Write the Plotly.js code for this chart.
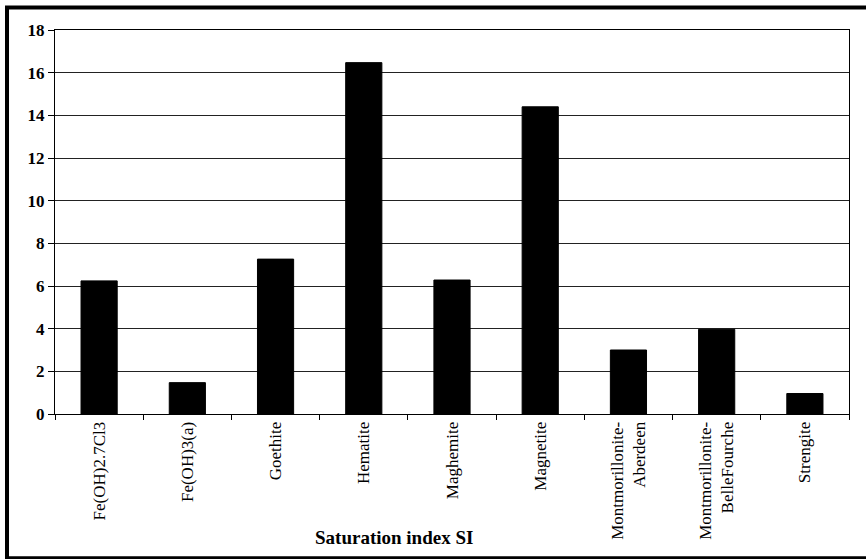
<!DOCTYPE html>
<html>
<head>
<meta charset="utf-8">
<script src="https://cdn.plot.ly/plotly-3.0.1.min.js"></script>
<style>
html,body{margin:0;padding:0;background:#fff;}
#chart{width:866px;height:559px;}
</style>
</head>
<body>
<div id="chart"></div>
<script>
var categories = ["Fe(OH)2.7Cl3", "Fe(OH)3(a)", "Goethite", "Hematite", "Maghemite", "Magnetite", "Montmorillonite-<br>Aberdeen", "Montmorillonite-<br>BelleFourche", "Strengite"];
var siValues = [6.24, 1.47, 7.26, 16.47, 6.28, 14.40, 3.00, 3.97, 0.96];
var yTicks = [0, 2, 4, 6, 8, 10, 12, 14, 16, 18];
var xTitle = "Saturation index SI";

var W = 866, H = 559;
var L = 55, T = 29.5, R = 17, B = 145.3;
var pw = W - L - R, ph = H - T - B;
function px(x) { return (x - L) / pw; }
function py(y) { return (H - B - y) / ph; }

var font = "Liberation Serif";

var trace = {
  type: "bar",
  x: categories,
  y: siValues,
  marker: { color: "#000000", line: { color: "#000000", width: 1 } },
  hoverinfo: "x+y"
};

var layout = {
  width: W, height: H,
  margin: { l: L, r: R, t: T, b: B, pad: 0 },
  paper_bgcolor: "#ffffff",
  plot_bgcolor: "#ffffff",
  bargap: 0.59,
  showlegend: false,
  font: { family: font, color: "#000" },
  xaxis: {
    type: "category",
    tickson: "boundaries",
    ticks: "outside",
    ticklen: 5,
    tickcolor: "#000",
    tickangle: -90,
    tickfont: { family: font, size: 17, color: "#000" },
    showgrid: false,
    showline: true,
    linecolor: "#000",
    linewidth: 1,
    mirror: true,
    automargin: false
  },
  yaxis: {
    range: [0, 18],
    tickvals: yTicks,
    ticks: "outside",
    ticklen: 6,
    tickcolor: "#000",
    tickfont: { family: font, size: 17, color: "#000", weight: "bold" },
    showgrid: true,
    gridcolor: "#222",
    gridwidth: 1,
    zeroline: false,
    showline: true,
    linecolor: "#000",
    linewidth: 1,
    mirror: true,
    automargin: false
  },
  annotations: [{
    text: xTitle,
    xref: "paper", yref: "paper",
    x: px(394), y: py(537),
    xanchor: "center", yanchor: "middle",
    showarrow: false,
    font: { family: font, size: 19, color: "#000", weight: "bold" }
  }],
  shapes: [{
    type: "rect",
    xref: "paper", yref: "paper",
    x0: px(7), x1: px(875), y0: py(7), y1: py(558),
    line: { color: "#000", width: 4 },
    fillcolor: "rgba(0,0,0,0)",
    layer: "above"
  }]
};

Plotly.newPlot("chart", [trace], layout, { displayModeBar: false, staticPlot: true });
</script>
</body>
</html>
